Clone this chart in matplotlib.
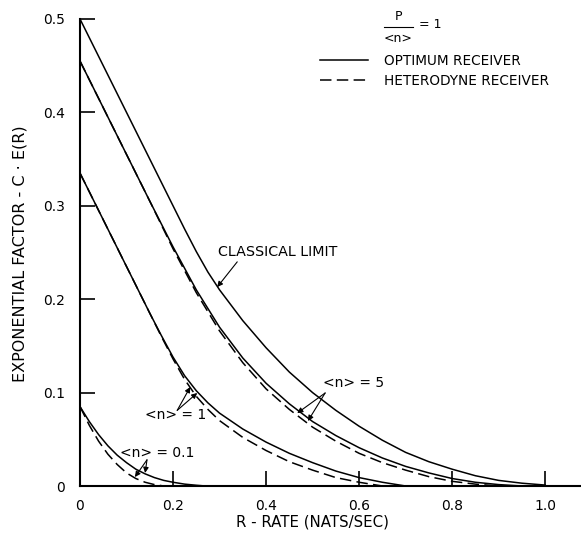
import matplotlib
matplotlib.use('Agg')
import matplotlib.pyplot as plt
from matplotlib.lines import Line2D

# Valores (R em nats/s, E em unidades de C*E(R))
r_classico = [0, 0.1, 0.2, 0.225, 0.25, 0.275, 0.3, 0.35, 0.4, 0.45, 0.5, 0.55, 0.6, 0.65, 0.7, 0.75,
              0.8, 0.85, 0.9, 0.95, 1.0]
e_classico = [0.5, 0.4, 0.3, 0.275, 0.251, 0.229, 0.210, 0.177, 0.148, 0.122, 0.100, 0.081, 0.064, 0.049,
              0.036, 0.026, 0.018, 0.011, 0.006, 0.003, 0.001]

r_n5_otimo = [0, 0.1, 0.15, 0.2, 0.25, 0.3, 0.35, 0.4, 0.45, 0.5, 0.55, 0.6, 0.65, 0.7, 0.75, 0.8, 0.85, 0.9, 0.95]
e_n5_otimo = [0.455, 0.355, 0.305, 0.256, 0.210, 0.170, 0.137, 0.110, 0.088, 0.069, 0.054, 0.041, 0.030,
              0.021, 0.014, 0.008, 0.004, 0.0015, 0.0]
r_n5_het = [0, 0.1, 0.15, 0.2, 0.25, 0.3, 0.35, 0.4, 0.45, 0.5, 0.55, 0.6, 0.65, 0.7, 0.75, 0.8, 0.85, 0.9]
e_n5_het = [0.455, 0.355, 0.305, 0.254, 0.207, 0.166, 0.132, 0.104, 0.082, 0.063, 0.048, 0.035, 0.025,
            0.017, 0.010, 0.005, 0.002, 0.0]

r_n1_otimo = [0, 0.1, 0.15, 0.175, 0.2, 0.225, 0.25, 0.275, 0.3, 0.35, 0.4, 0.45, 0.5, 0.55, 0.6, 0.65, 0.7]
e_n1_otimo = [0.335, 0.235, 0.185, 0.161, 0.138, 0.118, 0.102, 0.089, 0.078, 0.061, 0.047, 0.035, 0.025,
              0.016, 0.009, 0.004, 0.0]
r_n1_het = [0, 0.1, 0.15, 0.175, 0.2, 0.225, 0.25, 0.275, 0.3, 0.35, 0.4, 0.45, 0.5, 0.55, 0.6, 0.65]
e_n1_het = [0.335, 0.235, 0.185, 0.160, 0.136, 0.114, 0.096, 0.082, 0.070, 0.052, 0.038, 0.026, 0.017,
            0.009, 0.004, 0.0]

r_n01_otimo = [0, 0.02, 0.04, 0.06, 0.08, 0.1, 0.12, 0.14, 0.16, 0.18, 0.2, 0.225, 0.25, 0.27]
e_n01_otimo = [0.085, 0.069, 0.055, 0.043, 0.033, 0.025, 0.018, 0.013, 0.009, 0.006, 0.004, 0.002, 0.0008, 0.0]
r_n01_het = [0, 0.02, 0.04, 0.06, 0.08, 0.1, 0.12, 0.14, 0.16, 0.18]
e_n01_het = [0.085, 0.065, 0.048, 0.034, 0.023, 0.014, 0.008, 0.004, 0.0015, 0.0]

x_ticks = [0, 0.2, 0.4, 0.6, 0.8, 1.0]
x_labels = ['0', '0.2', '0.4', '0.6', '0.8', '1.0']
y_ticks = [0, 0.1, 0.2, 0.3, 0.4, 0.5]
y_labels = ['0', '0.1', '0.2', '0.3', '0.4', '0.5']

plt.rcParams['font.family'] = ['DejaVu Sans']
plt.rcParams['font.size'] = 10

W, H = 581, 550
fig = plt.figure(figsize=(W / 100, H / 100), dpi=100)
ax = fig.add_axes([80 / W, (H - 486) / H, 501 / W, 467 / H])

lw = 1.1
tracejado = (0, (7.5, 3.5))
ax.plot(r_classico, e_classico, color='black', lw=lw, label='OPTIMUM RECEIVER')
ax.plot(r_n5_otimo, e_n5_otimo, color='black', lw=lw)
ax.plot(r_n1_otimo, e_n1_otimo, color='black', lw=lw)
ax.plot(r_n01_otimo, e_n01_otimo, color='black', lw=lw)
ax.plot(r_n5_het, e_n5_het, color='black', lw=lw, linestyle=tracejado, label='HETERODYNE RECEIVER')
ax.plot(r_n1_het, e_n1_het, color='black', lw=lw, linestyle=tracejado)
ax.plot(r_n01_het, e_n01_het, color='black', lw=lw, linestyle=tracejado)

ax.set_xlim(0, 1.077)
ax.set_ylim(0, 0.5)
ax.set_xticks(x_ticks)
ax.set_xticklabels(x_labels)
ax.set_yticks(y_ticks)
ax.set_yticklabels(y_labels)
ax.tick_params(direction='in', length=11, width=1.2, labelsize=10)
ax.tick_params(axis='x', pad=9)
ax.tick_params(axis='y', pad=11)
for lado in ['top', 'right']:
    ax.spines[lado].set_visible(False)
for lado in ['left', 'bottom']:
    ax.spines[lado].set_linewidth(1.5)

fig.text(20 / W, 1 - 254 / H, 'EXPONENTIAL FACTOR - C · E(R)', rotation=90,
         ha='center', va='center', fontsize=11.5)
fig.text(313 / W, 1 - 522 / H, 'R - RATE (NATS/SEC)', ha='center', va='center', fontsize=10.8)

# anotações
seta = dict(arrowstyle='-|>', color='black', lw=0.8, mutation_scale=8, shrinkA=0, shrinkB=0)
ax.text(0.296, 0.251, 'CLASSICAL LIMIT', ha='left', va='center', fontsize=10.3)
ax.annotate('', xy=(0.295, 0.213), xytext=(0.338, 0.240), arrowprops=seta)

ax.text(0.523, 0.110, '<n> = 5', ha='left', va='center', fontsize=10)
ax.annotate('', xy=(0.467, 0.078), xytext=(0.527, 0.0996), arrowprops=seta)
ax.annotate('', xy=(0.490, 0.0696), xytext=(0.527, 0.0996), arrowprops=seta)

ax.text(0.140, 0.076, '<n> = 1', ha='left', va='center', fontsize=10)
ax.annotate('', xy=(0.237, 0.106), xytext=(0.209, 0.081), arrowprops=seta)
ax.annotate('', xy=(0.252, 0.0996), xytext=(0.209, 0.081), arrowprops=seta)

ax.text(0.086, 0.035, '<n> = 0.1', ha='left', va='center', fontsize=10)
ax.annotate('', xy=(0.118, 0.0096), xytext=(0.144, 0.028), arrowprops=seta)
ax.annotate('', xy=(0.140, 0.014), xytext=(0.144, 0.028), arrowprops=seta)

# razão P/<n> = 1
fig.text(398 / W, 1 - 17 / H, 'P', ha='center', va='center', fontsize=9)
fig.add_artist(Line2D([384 / W, 413 / W], [1 - 27 / H, 1 - 27 / H], color='black', lw=0.8))
fig.text(398 / W, 1 - 38 / H, '<n>', ha='center', va='center', fontsize=9)
fig.text(419 / W, 1 - 25 / H, '= 1', ha='left', va='center', fontsize=9)

ax.legend(loc='upper left', bbox_to_anchor=(320 / W, 1 - 54 / H), bbox_transform=fig.transFigure,
          frameon=False, fontsize=9.8, handlelength=3.5, handletextpad=1.2,
          borderpad=0, borderaxespad=0, labelspacing=0.45)

fig.savefig('out.png', dpi=100)
